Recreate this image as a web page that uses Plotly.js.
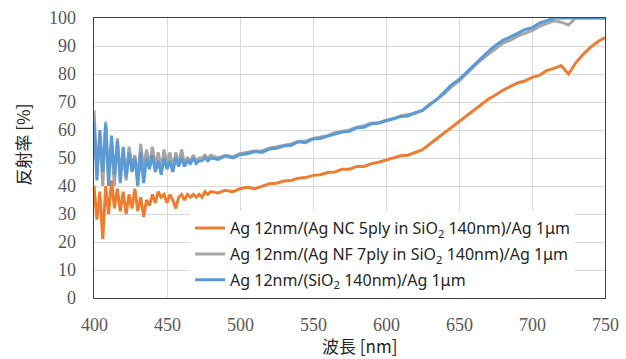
<!DOCTYPE html>
<html><head><meta charset="utf-8">
<script src="https://cdn.plot.ly/plotly-3.0.1.min.js"></script>
<style>html,body{margin:0;padding:0;background:#fff}#chart{width:626px;height:359px}</style>
</head><body><div id="chart"></div>
<script>
// wavelengths [nm]
const wlNoisy = [400,402,404,406,408,410,412,414,416,418,420,422,424,426,428,430,432,434,436,438,440,442,444,446,448,450,452,454,456,458,460,462,464,466,468,470,472,474,476,478,480];
const wlSmooth = [485,490,495,500,505,510,515,520,525,530,535,540,545,550,555,560,565,570,575,580,585,590,595,600,605,610,615,620,625,630,635,640,645,650,655,660,665,670,675,680,685,690,695,700,705,710,715,720,725,730,735,740,745,750];

// reflectance [%]
const orangeNoisy = [40,28,38,21,40,30,42,32,39,31,38,30,37,32,39,31,36,29,35,33,37,34,38,36,37,34,37,35,32,36,37,35,37,36,37,36,37,36,38,37,38];
const orangeSmooth = [37.5,38.5,38,39,39.5,39,40,40.8,41,41.8,42,42.8,43,43.8,44,44.8,45,46,46,47,47,48,48.5,49.2,50,50.8,51,52,53,55,57,59.2,61,63.2,65,67.3,69,71,72.5,74.2,75.5,76.8,77.5,78.8,79.5,81.2,82,83,80,84,87,89.5,91.5,93];

const grayNoisy = [67,45,58,40,63,44,55,40,57,45,52,42,54,47,51,43,55,46,53,47,54,47,52,46,53,48,52,46,52,48,53,48,50,49,51,49,50,50,51,50,51];
const graySmooth = [50,51,50.5,51.5,52,52.5,52.5,53.5,54,54.5,55,56,56,57,57.5,58,59,59.5,60,61,61.5,62.5,62.5,63.5,64,65,65.5,66,67,69,71,73,75.5,77.5,80,82.5,85,87,89,91,92,93.5,94.5,95.5,97,98,99,98.5,97.5,100,100,100,100,100];

const blueNoisy = [63,42,60,45,62,40,58,44,56,41,54,43,52,45,50,40,52,41,50,46,51,45,49,44,50,46,49,45,50,47,50,47,49,48,50,48,49,49,50,49,50];
const blueSmooth = [49.5,50.8,50,51.2,51.5,52.3,52,53.2,53.5,54.3,54.5,55.8,55.5,56.8,57,57.8,58.5,59.3,59.5,60.8,61,62.2,62.5,63.2,64,64.8,65,66.2,67,69.2,71,73.5,76.2,78,80.5,83.2,85.5,88,90.2,92,93.2,94.5,95.8,96.5,98.2,99,100,100,100,100,100,100,100,100];

const names = [
  'Ag 12nm/(Ag NC 5ply in SiO<sub>2</sub> 140nm)/Ag 1μm',
  'Ag 12nm/(Ag NF 7ply in SiO<sub>2</sub> 140nm)/Ag 1μm',
  'Ag 12nm/(SiO<sub>2</sub> 140nm)/Ag 1μm'
];
const colors = ['#ed7d31', '#a5a5a5', '#5b9bd5'];
const xTicks = [400,450,500,550,600,650,700,750];
const yTicks = [0,10,20,30,40,50,60,70,80,90,100];

const wl = wlNoisy.concat(wlSmooth);
const series = [orangeNoisy.concat(orangeSmooth), grayNoisy.concat(graySmooth), blueNoisy.concat(blueSmooth)];

const traces = series.map((y, i) => ({
  x: wl, y: y, type: 'scatter', mode: 'lines', name: names[i],
  legendgroup: 'g' + i,
  line: {color: colors[i], width: 3}
}));

const tickFont = {family: 'Liberation Serif, Times New Roman, serif', size: 18, color: '#595959'};
const tickAnnotations = []
  .concat(xTicks.map(v => ({text: String(v), xref: 'x', yref: 'paper', x: v, y: -0.096,
    xanchor: 'center', yanchor: 'middle', showarrow: false, font: tickFont})))
  .concat(yTicks.map(v => ({text: String(v), xref: 'paper', yref: 'y', x: -0.031, y: v,
    xanchor: 'right', yanchor: 'middle', showarrow: false, font: tickFont})));

const layout = {
  width: 626, height: 359,
  margin: {l: 94, r: 21, t: 18, b: 61},
  paper_bgcolor: '#ffffff', plot_bgcolor: '#ffffff',
  showlegend: true,
  legend: {
    x: 0.188, y: 0.31, xanchor: 'left', yanchor: 'top',
    bgcolor: '#ffffff', borderwidth: 0,
    traceorder: 'grouped', tracegroupgap: 2,
    font: {family: 'Noto Sans', size: 16, color: '#262626'}
  },
  xaxis: {
    range: [400, 750], tickmode: 'array', tickvals: xTicks, showticklabels: false,
    showgrid: true, gridcolor: '#d9d9d9', gridwidth: 1,
    showline: true, linecolor: '#404040', linewidth: 1.3, mirror: true,
    ticks: '', zeroline: false
  },
  yaxis: {
    range: [0, 100], tickmode: 'array', tickvals: yTicks, showticklabels: false,
    showgrid: true, gridcolor: '#d9d9d9', gridwidth: 1,
    showline: true, linecolor: '#404040', linewidth: 1.3, mirror: true,
    ticks: '', zeroline: false
  },
  annotations: tickAnnotations.concat([
    {text: '反射率 [%]', xref: 'paper', yref: 'paper', x: -0.14, y: 0.55,
     xanchor: 'center', yanchor: 'middle', textangle: -90, showarrow: false,
     font: {family: 'Noto Sans CJK JP', size: 17, color: '#262626'}},
    {text: '波長 [nm]', xref: 'paper', yref: 'paper', x: 0.52, y: -0.17,
     xanchor: 'center', yanchor: 'middle', showarrow: false,
     font: {family: 'Noto Sans CJK JP', size: 17, color: '#262626'}}
  ])
};
Plotly.newPlot('chart', traces, layout, {displayModeBar: false, staticPlot: true});
</script>
</body></html>
